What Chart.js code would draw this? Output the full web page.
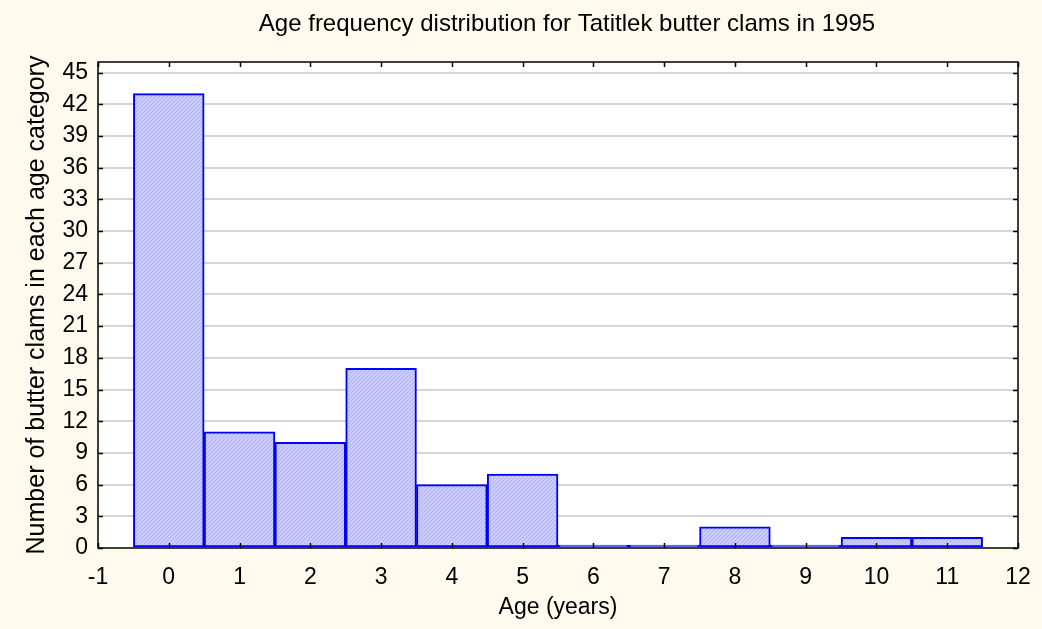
<!DOCTYPE html>
<html>
<head>
<meta charset="utf-8">
<script src="https://cdn.jsdelivr.net/npm/chart.js@4.4.1/dist/chart.umd.min.js"></script>
<style>
  html, body { margin: 0; padding: 0; background: #FFF9EE; }
  #wrap { width: 1042px; height: 629px; }
</style>
</head>
<body>
<div id="wrap"><canvas id="c"></canvas></div>
<script>
// age classes and counts
const ages = [0, 1, 2, 3, 4, 5, 6, 7, 8, 9, 10, 11];
const counts = [43, 11, 10, 17, 6, 7, 0, 0, 2, 0, 1, 1];
const yTicks = [0, 3, 6, 9, 12, 15, 18, 21, 24, 27, 30, 33, 36, 39, 42, 45];
const xTicks = [-1, 0, 1, 2, 3, 4, 5, 6, 7, 8, 9, 10, 11, 12];

const FONT = 'Liberation Sans, Arial, sans-serif';

// light blue fill with fine diagonal hatching
function makeHatch() {
    const p = document.createElement('canvas');
    p.width = 4; p.height = 4;
    const g = p.getContext('2d');
    g.fillStyle = '#cacafd';
    g.fillRect(0, 0, 4, 4);
    g.strokeStyle = '#b2b2ef';
    g.lineWidth = 1;
    g.beginPath();
    g.moveTo(0, 4); g.lineTo(4, 0);
    g.moveTo(-1, 1); g.lineTo(1, -1);
    g.moveTo(3, 5); g.lineTo(5, 3);
    g.stroke();
    return g.createPattern(p, 'repeat');
}

// white plot area, frame, and inward ticks on all four sides
const frame = {
    id: 'frame',
    beforeDraw(chart) {
        const { ctx, chartArea: a } = chart;
        ctx.save();
        ctx.fillStyle = '#FFF9EE';
        ctx.fillRect(0, 0, chart.width, chart.height);
        ctx.fillStyle = '#ffffff';
        ctx.fillRect(a.left, a.top, a.right - a.left, a.bottom - a.top);
        ctx.restore();
    },
    afterDraw(chart) {
        const { ctx, chartArea: a, scales } = chart;
        ctx.save();
        ctx.strokeStyle = '#000';
        ctx.lineWidth = 1.5;
        ctx.strokeRect(a.left, a.top, a.right - a.left, a.bottom - a.top);
        ctx.beginPath();
        xTicks.forEach(v => {
            const x = Math.round(scales.x.getPixelForValue(v)) + 0.5;
            ctx.moveTo(x, a.bottom); ctx.lineTo(x, a.bottom - 5);
            ctx.moveTo(x, a.top); ctx.lineTo(x, a.top + 5);
        });
        yTicks.forEach(v => {
            const y = Math.round(scales.y.getPixelForValue(v)) + 0.5;
            ctx.moveTo(a.left, y); ctx.lineTo(a.left + 5, y);
            ctx.moveTo(a.right, y); ctx.lineTo(a.right - 5, y);
        });
        ctx.stroke();
        // title
        ctx.fillStyle = '#000';
        ctx.font = '24px ' + FONT;
        ctx.textAlign = 'center';
        ctx.textBaseline = 'middle';
        ctx.fillText('Age frequency distribution for Tatitlek butter clams in 1995', 567, 24);
        ctx.restore();
    }
};

new Chart(document.getElementById('c'), {
    type: 'bar',
    data: {
        datasets: [{
            data: ages.map((a, i) => ({ x: a, y: counts[i] })),
            backgroundColor: makeHatch(),
            borderColor: '#0000ff',
            borderWidth: 2,
            borderSkipped: false,
            minBarLength: 3,
            barPercentage: 1,
            categoryPercentage: 1
        }]
    },
    options: {
        responsive: true,
        maintainAspectRatio: false,
        animation: false,
        layout: { padding: { top: 62, right: 24, left: 0, bottom: 0 } },
        plugins: { legend: { display: false }, tooltip: { enabled: false } },
        scales: {
            x: {
                type: 'linear',
                offset: false,
                min: -1,
                max: 12,
                afterBuildTicks: s => { s.ticks = xTicks.map(v => ({ value: v })); },
                afterFit: s => { s.height = 81; s.paddingLeft = 0; s.paddingRight = 0; },
                grid: { display: false, drawTicks: false },
                border: { display: false },
                ticks: { color: '#000', font: { family: FONT, size: 23 }, padding: 16, maxRotation: 0, autoSkip: false },
                title: {
                    display: true,
                    text: 'Age (years)',
                    color: '#000',
                    font: { family: FONT, size: 23 },
                    padding: { top: 0, bottom: 8 }
                }
            },
            y: {
                min: 0,
                max: 46,
                afterBuildTicks: s => { s.ticks = yTicks.map(v => ({ value: v })); },
                afterFit: s => { s.width = 98; s.paddingTop = 0; s.paddingBottom = 0; },
                grid: {
                    drawTicks: false,
                    color: ctx => ctx.tick && ctx.tick.value === 0 ? 'rgba(0,0,0,0)' : '#d6d6d6',
                    lineWidth: 2
                },
                border: { display: false },
                ticks: { color: '#000', font: { family: FONT, size: 23 }, padding: 10, autoSkip: false },
                title: {
                    display: true,
                    text: 'Number of butter clams in each age category',
                    color: '#000',
                    font: { family: FONT, size: 25 },
                    padding: { top: 22, bottom: 0 }
                }
            }
        }
    },
    plugins: [frame]
});
</script>
</body>
</html>
